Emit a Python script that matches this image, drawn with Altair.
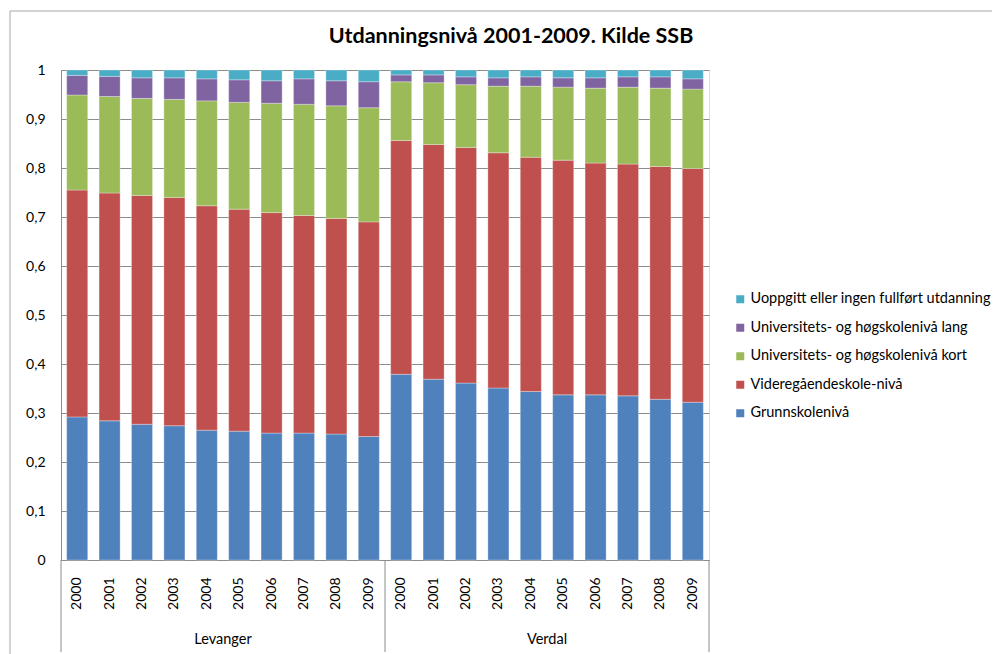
import altair as alt
import pandas as pd

# ---------------- data ----------------
kommuner = ["Levanger", "Verdal"]
years = ["2000", "2001", "2002", "2003", "2004", "2005", "2006", "2007", "2008", "2009"]
levels = [
    "Grunnskolenivå",
    "Videregåendeskole-nivå",
    "Universitets- og høgskolenivå kort",
    "Universitets- og høgskolenivå lang",
    "Uoppgitt eller ingen fullført utdanning",
]
colors = ["#4F81BD", "#C0504D", "#9BBB59", "#8064A2", "#4BACC6"]
title_text = "Utdanningsnivå 2001-2009. Kilde SSB"

lev_grunn = [0.292, 0.284, 0.277, 0.274, 0.265, 0.263, 0.259, 0.259, 0.257, 0.252]
lev_vgs   = [0.463, 0.465, 0.467, 0.466, 0.458, 0.453, 0.450, 0.444, 0.440, 0.438]
lev_kort  = [0.194, 0.197, 0.198, 0.200, 0.214, 0.218, 0.223, 0.227, 0.230, 0.233]
lev_lang  = [0.040, 0.041, 0.042, 0.044, 0.045, 0.046, 0.046, 0.052, 0.051, 0.053]
lev_uopp  = [0.011, 0.013, 0.016, 0.016, 0.018, 0.020, 0.022, 0.018, 0.022, 0.024]

ver_grunn = [0.379, 0.369, 0.361, 0.351, 0.344, 0.337, 0.337, 0.335, 0.328, 0.322]
ver_vgs   = [0.477, 0.479, 0.481, 0.480, 0.478, 0.479, 0.473, 0.473, 0.475, 0.477]
ver_kort  = [0.120, 0.126, 0.128, 0.136, 0.145, 0.149, 0.153, 0.157, 0.160, 0.162]
ver_lang  = [0.014, 0.016, 0.016, 0.017, 0.019, 0.019, 0.021, 0.021, 0.023, 0.021]
ver_uopp  = [0.010, 0.010, 0.014, 0.016, 0.014, 0.016, 0.016, 0.014, 0.014, 0.018]

y_ticks = [0, 0.1, 0.2, 0.3, 0.4, 0.5, 0.6, 0.7, 0.8, 0.9, 1]

series = {
    "Levanger": [lev_grunn, lev_vgs, lev_kort, lev_lang, lev_uopp],
    "Verdal": [ver_grunn, ver_vgs, ver_kort, ver_lang, ver_uopp],
}

keys = [f"{k} {y}" for k in kommuner for y in years]

rows = []
for k in kommuner:
    for li, lvl in enumerate(levels):
        for yi, y in enumerate(years):
            rows.append({"key": f"{k} {y}", "niva": lvl, "ord": li, "andel": series[k][li][yi]})
df = pd.DataFrame(rows)

groups = pd.DataFrame({"key": [f"{k} {years[4]}" for k in kommuner], "name": kommuner})
starts = pd.DataFrame({"key": [f"{k} {years[0]}" for k in kommuner]})
ends = pd.DataFrame({"key": [f"{kommuner[-1]} {years[-1]}"]})
one_row = pd.DataFrame({"t": [title_text]})

FONT = "Lato"
GRAY = "#8c8c8c"

xscale = alt.Scale(domain=keys, paddingInner=0, paddingOuter=0)
xaxis = alt.Axis(
    title=None,
    labelExpr="slice(datum.label, -4)",
    labelAngle=270,
    labelAlign="right",
    labelBaseline="middle",
    labelPadding=17,
    labelOverlap=False,
    ticks=False,
    tickSize=0,
    labelFont=FONT,
    labelFontSize=14,
    labelColor="#000000",
    domainColor=GRAY,
    domainWidth=1,
    grid=False,
)

legend_order = list(reversed(levels))
legend_colors = list(reversed(colors))

bars = alt.Chart(df).mark_bar(
    width=alt.RelativeBandSize(0.65), stroke="#ffffff", strokeWidth=0.5, strokeOpacity=0.6
).encode(
    x=alt.X("key:N", scale=xscale, sort=keys, axis=xaxis),
    y=alt.Y(
        "andel:Q",
        stack="zero",
        scale=alt.Scale(domain=[0, 1], nice=False),
        axis=alt.Axis(
            title=None,
            values=y_ticks,
            format="~g",
            labelExpr="replace(datum.label, '.', ',')",
            labelFont=FONT,
            labelFontSize=14,
            labelColor="#000000",
            labelPadding=16,
            ticks=False,
            tickSize=0,
            domainColor=GRAY,
            domainWidth=1,
            gridColor=GRAY,
            gridWidth=1,
        ),
    ),
    color=alt.Color(
        "niva:N",
        scale=alt.Scale(domain=legend_order, range=legend_colors),
        legend=alt.Legend(
            title=None,
            orient="none",
            legendX=672,
            legendY=222,
            symbolType="square",
            symbolSize=64,
            symbolStrokeWidth=0,
            labelFont=FONT,
            labelFontSize=14.5,
            labelColor="#000000",
            labelOffset=3,
            rowPadding=13.5,
            labelLimit=400,
        ),
    ),
    order=alt.Order("ord:Q", sort="ascending"),
)

sep_start = alt.Chart(starts).mark_rule(color=GRAY, strokeWidth=1).encode(
    x=alt.X("key:N", scale=xscale, sort=keys, axis=xaxis, bandPosition=0),
    y=alt.value(490),
    y2=alt.value(582),
)
sep_end = alt.Chart(ends).mark_rule(color=GRAY, strokeWidth=1).encode(
    x=alt.X("key:N", scale=xscale, sort=keys, axis=xaxis, bandPosition=1),
    y=alt.value(490),
    y2=alt.value(582),
)

group_text = alt.Chart(groups).mark_text(
    font=FONT, fontSize=14.5, color="#000000", baseline="middle", align="center"
).encode(
    x=alt.X("key:N", scale=xscale, sort=keys, axis=xaxis, bandPosition=1),
    y=alt.value(570),
    text="name:N",
)

title = alt.Chart(one_row).mark_text(
    font=FONT, fontSize=21.5, fontWeight="bold", color="#000000", baseline="middle", align="center"
).encode(x=alt.value(450), y=alt.value(-33), text="t:N")

frame = alt.Chart(one_row).mark_rect(fillOpacity=0, stroke="#a6a6a6", strokeWidth=1).encode(
    x=alt.value(-51), x2=alt.value(1000), y=alt.value(-59), y2=alt.value(700)
)

chart = alt.layer(frame, bars, sep_start, sep_end, group_text, title).properties(
    width=648,
    height=490,
    autosize=alt.AutoSizeParams(type="none"),
    padding={"left": 53, "top": 62, "right": 283, "bottom": 100},
).configure_view(stroke=None).configure(background="#ffffff")

chart.save("out.html", embed_options={"renderer": "svg", "actions": False})
